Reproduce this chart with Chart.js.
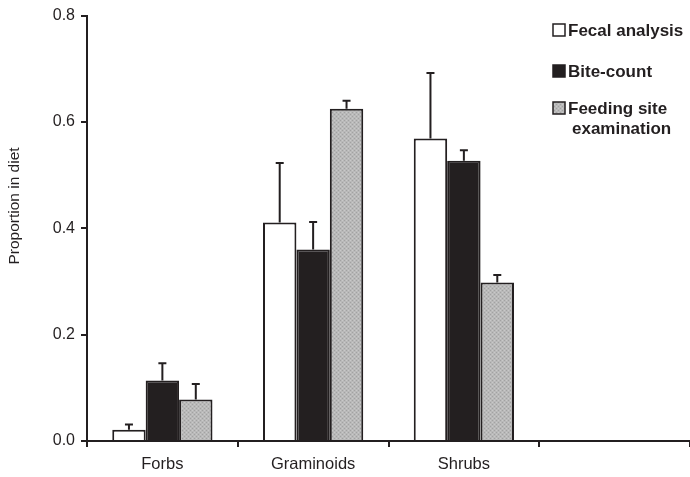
<!DOCTYPE html>
<html>
<head>
<meta charset="utf-8">
<script src="https://cdn.jsdelivr.net/npm/chart.js@4.4.1/dist/chart.umd.min.js"></script>
<style>
  html, body { margin: 0; padding: 0; background: #fff; }
  #wrap { width: 690px; height: 477px; }
</style>
</head>
<body>
<div id="wrap"><canvas id="myChart" width="690" height="477"></canvas></div>
<script>
var categories = ["Forbs", "Graminoids", "Shrubs", ""];
var seriesNames = ["Fecal analysis", "Bite-count", "Feeding site examination"];
var fecal = [0.021, 0.411, 0.569, null];
var fecalErr = [0.010, 0.112, 0.123, null];
var bite = [0.114, 0.360, 0.527, null];
var biteErr = [0.032, 0.052, 0.020, null];
var feeding = [0.078, 0.625, 0.298, null];
var feedingErr = [0.029, 0.015, 0.014, null];
var yTicks = [0, 0.2, 0.4, 0.6, 0.8];

var ink = '#231f20';
var font = "'Liberation Sans', Arial, sans-serif";

// stippled grey fill for the third series
function stipple() {
    var c = document.createElement('canvas');
    c.width = 4; c.height = 4;
    var g = c.getContext('2d');
    g.fillStyle = '#b9b9b9';
    g.fillRect(0, 0, 4, 4);
    g.fillStyle = '#a2a2a2';
    g.fillRect(0, 0, 1, 1);
    g.fillRect(2, 2, 1, 1);
    g.fillStyle = '#c9c9c9';
    g.fillRect(2, 0, 1, 1);
    g.fillRect(0, 2, 1, 1);
    return g.createPattern(c, 'repeat');
}
var grey = stipple();

var errors = [fecalErr, biteErr, feedingErr];

var errorBars = {
    id: 'errorBars',
    afterDatasetsDraw: function(chart) {
        var ctx = chart.ctx;
        var y = chart.scales.y;
        ctx.save();
        ctx.strokeStyle = ink;
        ctx.lineWidth = 2;
        chart.data.datasets.forEach(function(ds, i) {
            var meta = chart.getDatasetMeta(i);
            meta.data.forEach(function(bar, j) {
                var v = ds.data[j], e = errors[i][j];
                if (v == null || e == null) return;
                var top = y.getPixelForValue(v + e);
                ctx.beginPath();
                ctx.moveTo(bar.x, bar.y);
                ctx.lineTo(bar.x, top);
                ctx.moveTo(bar.x - 4, top);
                ctx.lineTo(bar.x + 4, top);
                ctx.stroke();
            });
        });
        ctx.restore();
    }
};

var legendBox = {
    id: 'legendBox',
    afterDraw: function(chart) {
        var ctx = chart.ctx;
        var fills = ['#ffffff', ink, grey];
        var rows = [[seriesNames[0]], [seriesNames[1]], ['Feeding site', 'examination']];
        var ys = [30, 71, 108];
        ctx.save();
        ctx.font = 'bold 17px ' + font;
        ctx.textBaseline = 'middle';
        rows.forEach(function(r, i) {
            ctx.fillStyle = fills[i];
            ctx.fillRect(553, ys[i] - 6, 12, 12);
            ctx.strokeStyle = ink;
            ctx.lineWidth = 1.5;
            ctx.strokeRect(553, ys[i] - 6, 12, 12);
            ctx.fillStyle = ink;
            ctx.textAlign = 'left';
            ctx.fillText(r[0], 568, ys[i] + 1);
            if (r[1]) ctx.fillText(r[1], 572, ys[i] + 21);
        });
        // y axis title
        ctx.font = '15.5px ' + font;
        ctx.translate(15, 206);
        ctx.rotate(-Math.PI / 2);
        ctx.textAlign = 'center';
        ctx.fillText('Proportion in diet', 0, 0);
        ctx.restore();
    }
};

var ctx = document.getElementById("myChart");
var myChart = new Chart(ctx, {
    type: 'bar',
    data: {
        labels: categories,
        datasets: [{
            label: seriesNames[0],
            data: fecal,
            backgroundColor: '#ffffff',
            borderColor: ink,
            borderWidth: 2
        }, {
            label: seriesNames[1],
            data: bite,
            backgroundColor: ink,
            borderColor: ink,
            borderWidth: 2
        }, {
            label: seriesNames[2],
            data: feeding,
            backgroundColor: grey,
            borderColor: ink,
            borderWidth: 2
        }]
    },
    plugins: [errorBars, legendBox],
    options: {
        responsive: false,
        animation: false,
        layout: { padding: { top: 15, right: 0, left: 0, bottom: 0 } },
        datasets: { bar: { categoryPercentage: 0.665, barPercentage: 1.0 } },
        plugins: {
            legend: { display: false },
            tooltip: { enabled: false }
        },
        scales: {
            x: {
                grid: {
                    offset: true,
                    drawOnChartArea: false,
                    color: ink,
                    lineWidth: 2,
                    tickLength: 6
                },
                border: { color: ink, width: 2 },
                ticks: {
                    color: ink,
                    font: { family: font, size: 16.5 },
                    padding: 8,
                    maxRotation: 0
                },
                afterFit: function(s) { s.height = 36; }
            },
            y: {
                min: 0,
                max: 0.8,
                afterBuildTicks: function(s) {
                    s.ticks = yTicks.map(function(v) { return { value: v }; });
                },
                grid: {
                    drawOnChartArea: false,
                    color: ink,
                    lineWidth: 2,
                    tickLength: 6
                },
                border: { color: ink, width: 2 },
                ticks: {
                    color: ink,
                    font: { family: font, size: 16 },
                    padding: 6,
                    callback: function(v) { return v.toFixed(1); }
                },
                afterFit: function(s) { s.width = 87; }
            }
        }
    }
});
</script>
</body>
</html>
